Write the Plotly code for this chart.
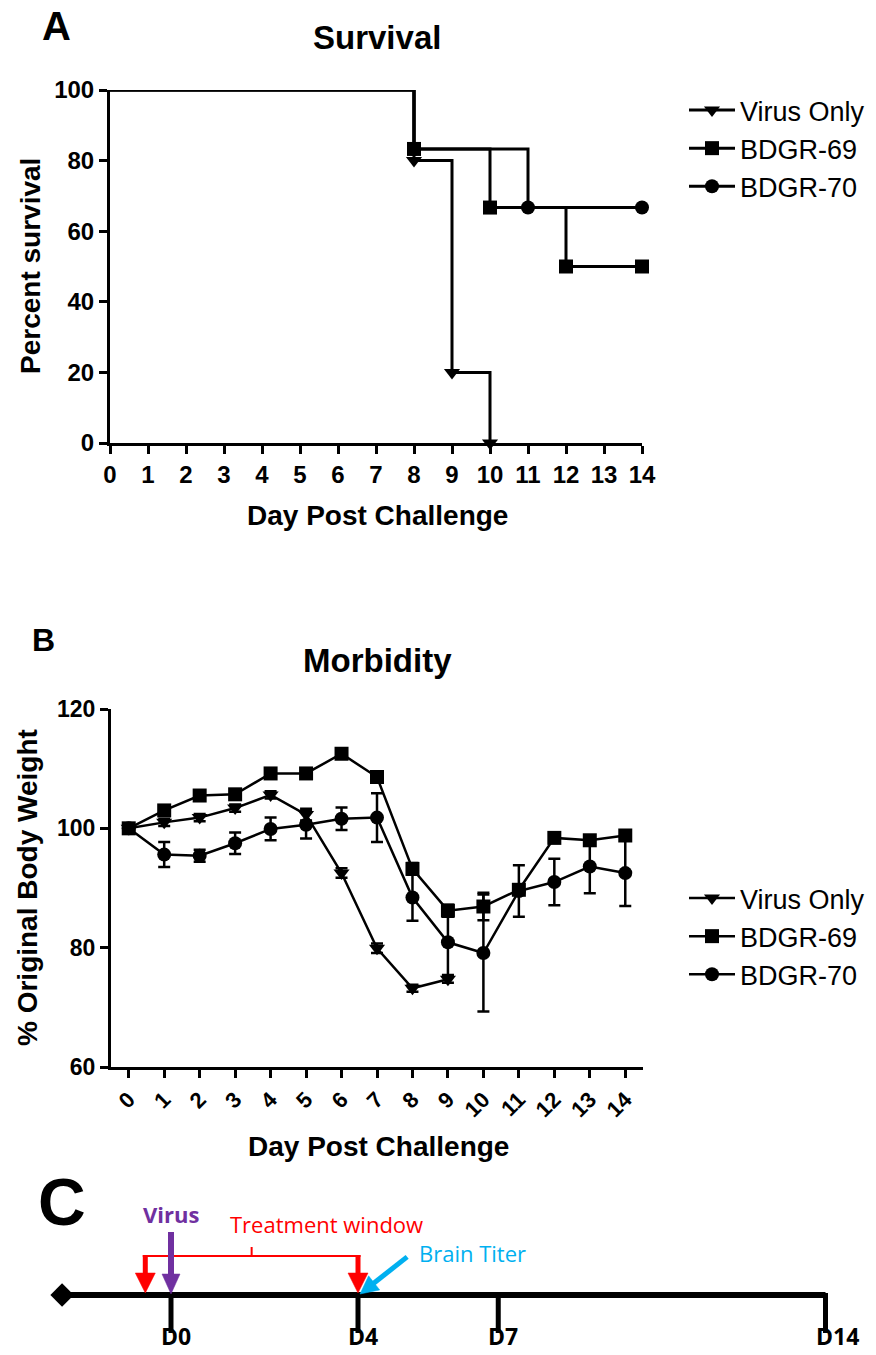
import plotly.graph_objects as go

W, H = 876, 1355

# ---------------- Panel A: survival (Kaplan-Meier steps) ----------------
surv_virus_days = [0, 8, 9, 10]
surv_virus = [100, 80, 20, 0]
surv_69_days = [0, 8, 10, 12, 14]
surv_69 = [100, 83.3, 66.7, 50, 50]
surv_70_days = [0, 8, 11, 14]
surv_70 = [100, 83.3, 66.7, 66.7]

# ---------------- Panel B: morbidity ----------------
days = list(range(15))
virus_only = [100, 101.0, 101.8, 103.4, 105.6, 102.3, 92.5, 79.9, 73.2, 74.7]
virus_only_err = [0, 0.6, 0.6, 0.6, 0.6, 1.0, 0.8, 0.8, 0.6, 0.6]
bdgr69 = [100, 103.0, 105.5, 105.7, 109.2, 109.2, 112.5, 108.6, 93.2, 86.2, 86.9, 89.7, 98.4, 98.0, 98.8]
bdgr69_err = [0, 0.8, 0.5, 0.6, 0.4, 0.4, 0.5, 0.6, 1.0, 1.0, 2.3, 0.8, 0.6, 0.6, 0.6]
bdgr70 = [100, 95.6, 95.4, 97.5, 99.9, 100.6, 101.6, 101.8, 88.4, 80.9, 79.1, 89.5, 91.0, 93.6, 92.5]
bdgr70_err = [0, 2.1, 1.0, 1.8, 1.9, 2.3, 1.9, 4.1, 3.9, 5.5, 9.8, 4.3, 3.9, 4.5, 5.5]

series_names = ["Virus Only", "BDGR-69", "BDGR-70"]
series_symbols = ["triangle-down", "square", "circle"]

# ---------------- Panel C: timeline ----------------
timeline_days = [0, 4, 7, 14]
timeline_labels = ["D0", "D4", "D7", "D14"]
timeline_start = -2.33
treatment_window = [-0.55, 4]
virus_day = 0
titer_day = 4

PURPLE = "#7030A0"
RED = "#FF0000"
BLUE = "#00B0F0"
FONT = "Liberation Sans, Arial, sans-serif"
CFONT = "Open Sans, Noto Sans, sans-serif"


def px_x(x):
    return x / W


def px_y(y):
    return 1 - y / H


fig = go.Figure()

# ---- Panel A traces ----
surv = [(surv_virus_days, surv_virus), (surv_69_days, surv_69), (surv_70_days, surv_70)]
for (dx, vy), name, sym in zip(surv, series_names, series_symbols):
    # initial plateau + first drop (no marker)
    fig.add_trace(go.Scatter(
        x=dx[:2], y=vy[:2], mode="lines", line=dict(color="black", width=3, shape="hv"),
        showlegend=False, hoverinfo="skip", xaxis="x", yaxis="y"))
    fig.add_trace(go.Scatter(
        x=dx[1:], y=vy[1:], mode="lines+markers", name=name,
        line=dict(color="black", width=3, shape="hv"),
        marker=dict(symbol=sym, size=14, color="black"),
        cliponaxis=False, legend="legend", xaxis="x", yaxis="y"))

# ---- Panel B traces ----
morb = [(days[:len(virus_only)], virus_only, virus_only_err),
        (days, bdgr69, bdgr69_err),
        (days, bdgr70, bdgr70_err)]
for (dx, vy, er), name, sym in zip(morb, series_names, series_symbols):
    fig.add_trace(go.Scatter(
        x=dx, y=vy, mode="lines+markers", name=name,
        line=dict(color="black", width=2.5),
        marker=dict(symbol=sym, size=14, color="black"),
        error_y=dict(type="data", array=er, visible=True, color="black", thickness=2.5, width=6),
        cliponaxis=False, legend="legend2", xaxis="x2", yaxis="y2"))

# ---- Panel C traces ----
TL_Y = 60      # timeline height in panel-C units (1 unit = 1 px)
PXD = 46.75    # px per day on the timeline axis

fig.add_trace(go.Scatter(
    x=[timeline_start, timeline_days[-1]], y=[TL_Y, TL_Y], mode="lines",
    line=dict(color="black", width=6), showlegend=False, hoverinfo="skip",
    xaxis="x3", yaxis="y3"))
fig.add_trace(go.Scatter(
    x=[timeline_start], y=[TL_Y], mode="markers",
    marker=dict(symbol="diamond", size=18, color="black"),
    showlegend=False, hoverinfo="skip", cliponaxis=False, xaxis="x3", yaxis="y3"))
tx, ty = [], []
for d in timeline_days:
    tx += [d, d, None]
    ty += [TL_Y + 2, TL_Y - 38, None]
fig.add_trace(go.Scatter(
    x=tx, y=ty, mode="lines", line=dict(color="black", width=5),
    showlegend=False, hoverinfo="skip", xaxis="x3", yaxis="y3"))

shapes = []


def arrow(tip_day, tip_y, ux, uy, length, head_len, head_w, width, color):
    # (ux, uy): unit direction from tip toward tail, in px (y up)
    n = (ux ** 2 + uy ** 2) ** 0.5
    ux, uy = ux / n, uy / n
    def pt(px_dx, px_dy):
        return tip_day + px_dx / PXD, tip_y + px_dy
    tail = pt(ux * length, uy * length)
    base = pt(ux * head_len * 0.9, uy * head_len * 0.9)
    shapes.append(dict(type="line", xref="x3", yref="y3", x0=tail[0], y0=tail[1],
                       x1=base[0], y1=base[1], line=dict(color=color, width=width)))
    px_, py_ = -uy, ux
    b1 = pt(ux * head_len + px_ * head_w / 2, uy * head_len + py_ * head_w / 2)
    b2 = pt(ux * head_len - px_ * head_w / 2, uy * head_len - py_ * head_w / 2)
    t = pt(0, 0)
    shapes.append(dict(type="path", xref="x3", yref="y3",
                       path=f"M {t[0]},{t[1]} L {b1[0]},{b1[1]} L {b2[0]},{b2[1]} Z",
                       fillcolor=color, line=dict(color=color, width=0.5)))


BR_Y = 99
# treatment bracket
shapes.append(dict(type="line", xref="x3", yref="y3",
                   x0=treatment_window[0] - 2.5 / PXD, x1=treatment_window[1] + 2.5 / PXD,
                   y0=BR_Y, y1=BR_Y, line=dict(color=RED, width=2)))
mid = (treatment_window[0] + treatment_window[1]) / 2
shapes.append(dict(type="line", xref="x3", yref="y3", x0=mid, x1=mid, y0=BR_Y, y1=BR_Y + 9,
                   line=dict(color=RED, width=2)))
for d in treatment_window:
    arrow(d, TL_Y + 2, 0, 1, BR_Y - TL_Y - 1, 20, 20, 5, RED)
# virus arrow
arrow(virus_day, TL_Y + 1, 0, 1, 62, 20, 18, 6, PURPLE)
# brain titer arrow
arrow(titer_day + 2 / PXD, TL_Y + 1, 47, 37, 60, 18, 18, 5, BLUE)

annotations = []


def ann(text, x, y, size, bold=True, color="black", family=FONT, angle=0, **kw):
    annotations.append(dict(text=text, x=px_x(x), y=px_y(y), xref="paper", yref="paper",
                            xanchor="center", yanchor="middle",
                            showarrow=False, textangle=angle,
                            font=dict(family=family, size=size, color=color,
                                      weight="bold" if bold else "normal"), **kw))


ann("A", 56, 26, 40)
ann("Survival", 377, 38, 33)
ann("Percent survival", 30, 266, 28, angle=-90)
ann("Day Post Challenge", 377, 516, 28)
ann("B", 43, 640, 32)
ann("Morbidity", 377, 660, 33)
ann("% Original Body Weight", 27, 888, 28, angle=-90)
ann("Day Post Challenge", 378, 1146, 28)
ann("C", 62, 1202, 66)

for d, lab in zip(timeline_days, timeline_labels):
    annotations.append(dict(text=lab, x=d, y=19, xref="x3", yref="y3", xanchor="left",
                            yanchor="middle", xshift=-12, showarrow=False,
                            font=dict(family=CFONT, size=23, color="black", weight="bold")))
annotations.append(dict(text="Virus", x=virus_day, y=141, xref="x3", yref="y3", showarrow=False,
                        font=dict(family=CFONT, size=22, color=PURPLE, weight="bold")))
annotations.append(dict(text="Treatment window", x=mid + 1.6, y=131, xref="x3", yref="y3",
                        showarrow=False, font=dict(family=CFONT, size=22, color=RED)))
annotations.append(dict(text="Brain Titer", x=titer_day + 2.45, y=102, xref="x3", yref="y3",
                        showarrow=False, font=dict(family=CFONT, size=22, color=BLUE)))

axis_common = dict(showline=True, linecolor="black", linewidth=3, ticks="outside",
                   ticklen=8, tickwidth=3, tickcolor="black", showgrid=False, zeroline=False,
                   tickfont=dict(family=FONT, size=24, color="black", weight="bold"))

fig.update_layout(
    width=W, height=H, margin=dict(l=0, r=0, t=0, b=0, autoexpand=False),
    paper_bgcolor="white", plot_bgcolor="white",
    xaxis=dict(domain=[px_x(110), px_x(642)], range=[0, 14], anchor="y",
               tickvals=list(range(15)), **axis_common),
    yaxis=dict(domain=[px_y(443), px_y(90)], range=[0, 100], anchor="x",
               tickvals=[0, 20, 40, 60, 80, 100], **axis_common),
    xaxis2=dict(domain=[px_x(111), px_x(643)], range=[-0.5, 14.5], anchor="y2",
                tickvals=days, tickangle=-45, **{**axis_common,
                "tickfont": dict(family=FONT, size=22, color="black", weight="bold")}),
    yaxis2=dict(domain=[px_y(1067), px_y(709)], range=[60, 120], anchor="x2",
                tickvals=[60, 80, 100, 120], **{**axis_common,
                "tickfont": dict(family=FONT, size=23, color="black", weight="bold")}),
    xaxis3=dict(domain=[0, 1], range=[-171 / PXD, (W - 171) / PXD], anchor="y3", visible=False),
    yaxis3=dict(domain=[0, px_y(1155)], range=[0, 200], anchor="x3", visible=False),
    legend=dict(x=px_x(684), y=px_y(86), xanchor="left", yanchor="top",
                font=dict(family=FONT, size=27, color="black"), bgcolor="rgba(0,0,0,0)",
                itemwidth=46, tracegroupgap=0),
    legend2=dict(x=px_x(684), y=px_y(874), xanchor="left", yanchor="top",
                 font=dict(family=FONT, size=27, color="black"), bgcolor="rgba(0,0,0,0)",
                 itemwidth=46, tracegroupgap=0),
    shapes=shapes, annotations=annotations, showlegend=True,
)

fig.write_html("out.html", config={"displayModeBar": False},
               post_script="document.body.style.margin='0';")
